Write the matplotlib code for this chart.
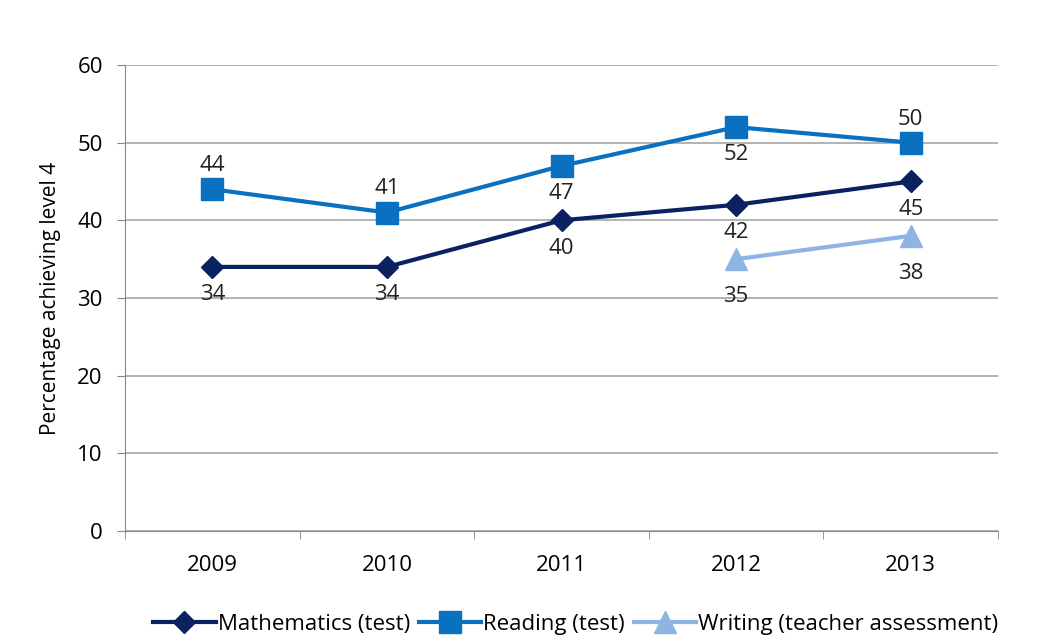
import matplotlib.pyplot as plt

years = ["2009", "2010", "2011", "2012", "2013"]
maths = [34, 34, 40, 42, 45]
reading = [44, 41, 47, 52, 50]
writing_years = ["2012", "2013"]
writing = [35, 38]

# label placement: +1 above, -1 below
maths_pos = [-1, -1, -1, -1, -1]
reading_pos = [1, 1, -1, -1, 1]
writing_pos = [-1, -1]

plt.rcParams['font.family'] = ['Open Sans', 'DejaVu Sans']

fig = plt.figure(figsize=(10.47, 6.42), dpi=100)
ax = fig.add_axes([0.1194, 0.1729, 0.8338, 0.7259])

x = list(range(len(years)))
wx = [years.index(y) for y in writing_years]

ax.plot(x, maths, color='#0B2162', lw=3, marker='D', ms=11, label='Mathematics (test)', zorder=3)
ax.plot(x, reading, color='#0A70C0', lw=3, marker='s', ms=16, label='Reading (test)', zorder=3)
ax.plot(wx, writing, color='#8DB4E2', lw=3, marker='^', ms=16, label='Writing (teacher assessment)', zorder=3)

def label(xs, vals, pos, up=17, down=-20):
    for xi, v, p in zip(xs, vals, pos):
        ax.annotate(str(v), (xi, v), xytext=(0, up if p > 0 else down), textcoords='offset points',
                    ha='center', va='center', fontsize=16, color='#222222')

label(x, maths, maths_pos, down=-20)
label(x, reading, reading_pos)
label(wx, writing, writing_pos, down=-27)

ax.set_xlim(-0.5, len(years) - 0.5)
ax.set_ylim(0, 60)
ax.set_yticks(range(0, 61, 10))
ax.set_xticks(x)
ax.set_xticklabels(years)
ax.set_xticks([i - 0.5 for i in range(len(years) + 1)], minor=True)
ax.tick_params(axis='x', which='major', length=0, pad=17, labelsize=16)
ax.tick_params(axis='x', which='minor', length=6, color='#888888')
ax.tick_params(axis='y', length=6, color='#888888', labelsize=16, pad=10)
ax.yaxis.grid(True, color='#A6A6A6', lw=1.2)
ax.set_axisbelow(True)
for s in ['top', 'right']:
    ax.spines[s].set_visible(False)
for s in ['left', 'bottom']:
    ax.spines[s].set_color('#888888')
ax.set_ylabel('Percentage achieving level 4', fontsize=15, labelpad=12)

fig.legend(loc='lower center', bbox_to_anchor=(0.55, -0.02), ncol=3, frameon=False,
           fontsize=16, handlelength=2.8, columnspacing=0.4, handletextpad=0.1)

fig.savefig('out.png', dpi=100)
